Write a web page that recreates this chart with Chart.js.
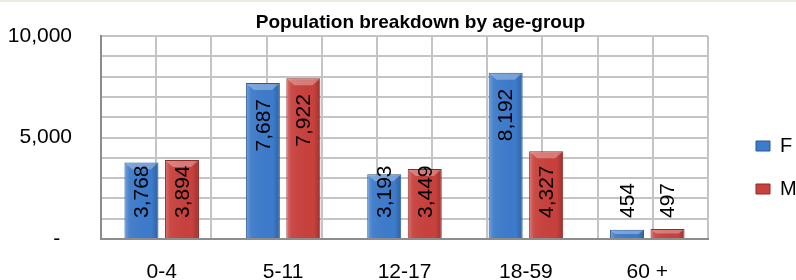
<!DOCTYPE html>
<html>
<head>
<meta charset="utf-8">
<script src="https://cdn.jsdelivr.net/npm/chart.js@4/dist/chart.umd.min.js"></script>
<style>
  html, body { margin: 0; padding: 0; background: #ffffff; }
  #wrap { width: 796px; height: 280px; position: relative; }
</style>
</head>
<body>
<div id="wrap"><canvas id="c" width="796" height="280"></canvas></div>
<script>
const chartTitle = "Population breakdown by age-group";
const categories = ["0-4", "5-11", "12-17", "18-59", "60 +"];
const seriesNames = ["F", "M"];
const femaleValues = [3768, 7687, 3193, 8192, 454];
const maleValues = [3894, 7922, 3449, 4327, 497];
const yTickLabels = { 0: "-  ", 5000: "5,000", 10000: "10,000" };

const FONT = "'Liberation Sans', Arial, sans-serif";

const bgPlugin = {
  id: 'bg',
  beforeDraw(chart) {
    const ctx = chart.ctx;
    ctx.save();
    ctx.fillStyle = '#ffffff';
    ctx.fillRect(0, 0, chart.width, chart.height);
    ctx.fillStyle = '#ecedde';
    ctx.fillRect(0, 0, chart.width, 2);
    ctx.restore();
  }
};

const titlePlugin = {
  id: 'customTitle',
  afterDraw(chart) {
    const ctx = chart.ctx;
    const a = chart.chartArea;
    ctx.save();
    ctx.font = "bold 19px " + FONT;
    ctx.fillStyle = '#000000';
    ctx.textAlign = 'center';
    ctx.textBaseline = 'alphabetic';
    ctx.fillText(chartTitle, (a.left + a.right) / 2 + 16, 27.5);
    ctx.restore();
  }
};

// subtle bevel shading on each bar element (uses the library's own bar geometry)
const bevelPlugin = {
  id: 'bevel',
  afterDatasetsDraw(chart) {
    const ctx = chart.ctx;
    chart.data.datasets.forEach((ds, di) => {
      const meta = chart.getDatasetMeta(di);
      meta.data.forEach((bar) => {
        const p = bar.getProps(['x', 'y', 'base', 'width']);
        const l = p.x - p.width / 2, r = p.x + p.width / 2;
        const t = p.y, b = p.base, h = b - t;
        ctx.save();
        const g = ctx.createLinearGradient(l, 0, r, 0);
        g.addColorStop(0, 'rgba(255,255,255,0.28)');
        g.addColorStop(0.15, 'rgba(255,255,255,0.05)');
        g.addColorStop(0.8, 'rgba(0,0,0,0.0)');
        g.addColorStop(1, 'rgba(0,0,0,0.22)');
        ctx.fillStyle = g;
        ctx.fillRect(l + 1, t + 1, p.width - 2, h - 1);
        const cap = Math.min(7, h / 2);
        ctx.beginPath();
        ctx.moveTo(l + 1, t + 1);
        ctx.lineTo(r - 1, t + 1);
        ctx.lineTo(r - 1 - cap, t + cap);
        ctx.lineTo(l + 1 + cap, t + cap);
        ctx.closePath();
        ctx.fillStyle = 'rgba(255,255,255,0.30)';
        ctx.fill();
        ctx.restore();
      });
    });
  }
};

const labelPlugin = {
  id: 'barLabels',
  afterDatasetsDraw(chart) {
    const ctx = chart.ctx;
    ctx.save();
    ctx.font = "21px " + FONT;
    ctx.fillStyle = '#000000';
    ctx.textAlign = 'left';
    ctx.textBaseline = 'middle';
    chart.data.datasets.forEach((ds, di) => {
      const meta = chart.getDatasetMeta(di);
      meta.data.forEach((bar, i) => {
        const txt = Number(ds.data[i]).toLocaleString('en-US');
        const w = ctx.measureText(txt).width;
        let start = bar.y + 16 + w;
        const limit = bar.base - 20;
        if (start > limit) start = limit;
        ctx.save();
        ctx.translate(bar.x, start);
        ctx.rotate(-Math.PI / 2);
        ctx.fillText(txt, 0, 1);
        ctx.restore();
      });
    });
    ctx.restore();
  }
};

const GRID = '#c4c4c4';
const AXIS = '#8c8c8c';

new Chart(document.getElementById('c'), {
  type: 'bar',
  data: {
    labels: categories,
    datasets: [
      {
        label: seriesNames[0],
        data: femaleValues,
        backgroundColor: '#3d7bcb',
        borderColor: '#2b5893',
        borderWidth: 1,
        categoryPercentage: 0.667,
        barPercentage: 0.84
      },
      {
        label: seriesNames[1],
        data: maleValues,
        backgroundColor: '#c8413d',
        borderColor: '#8f2b29',
        borderWidth: 1,
        categoryPercentage: 0.667,
        barPercentage: 0.84
      }
    ]
  },
  options: {
    responsive: false,
    animation: false,
    devicePixelRatio: 1,
    layout: { padding: { left: 8, right: 0, top: 36, bottom: 0 } },
    plugins: {
      title: { display: false },
      tooltip: { enabled: false },
      legend: {
        display: true,
        position: 'right',
        align: 'center',
        maxWidth: 63,
        title: { display: true, text: '', font: { size: 19, lineHeight: 1 }, padding: 0 },
        labels: {
          boxWidth: 14,
          boxHeight: 10,
          padding: 23,
          color: '#000000',
          font: { family: FONT, size: 20 }
        }
      }
    },
    scales: {
      x: {
        type: 'category',
        position: 'bottom',
        grid: { display: false, drawTicks: false },
        border: { display: true, color: AXIS, width: 2 },
        ticks: {
          color: '#000000',
          padding: 25,
          maxRotation: 0,
          autoSkip: false,
          font: { family: FONT, size: 21, lineHeight: 0.75 }
        },
        afterFit: (s) => { s.height = 41; s.paddingLeft = 0; s.paddingRight = 0; }
      },
      xGrid: {
        type: 'linear',
        position: 'top',
        min: 0,
        max: 10,
        display: true,
        grid: {
          display: true,
          drawTicks: false,
          lineWidth: 2,
          color: (c) => (c.tick && c.tick.value === 0) ? 'rgba(0,0,0,0)' : GRID
        },
        border: { display: false },
        ticks: { display: false, stepSize: 1, autoSkip: false },
        afterFit: (s) => { s.height = 0; }
      },
      y: {
        type: 'linear',
        position: 'left',
        min: 0,
        max: 10000,
        grid: {
          display: true,
          drawTicks: false,
          lineWidth: 2,
          color: (c) => (c.tick && c.tick.value === 0) ? 'rgba(0,0,0,0)' : GRID
        },
        border: { display: true, color: AXIS, width: 2 },
        ticks: {
          stepSize: 1000,
          autoSkip: false,
          padding: 29,
          color: '#000000',
          font: { family: FONT, size: 21 },
          callback: (v) => (yTickLabels[v] !== undefined ? yTickLabels[v] : '')
        },
        afterFit: (s) => { s.width = 93; s.paddingTop = 0; s.paddingBottom = 0; }
      },
      yGap: {
        type: 'linear',
        position: 'right',
        display: true,
        grid: { display: false, drawTicks: false },
        border: { display: false },
        ticks: { display: false },
        afterFit: (s) => { s.width = 25; }
      }
    }
  },
  plugins: [bgPlugin, titlePlugin, bevelPlugin, labelPlugin]
});
</script>
</body>
</html>
